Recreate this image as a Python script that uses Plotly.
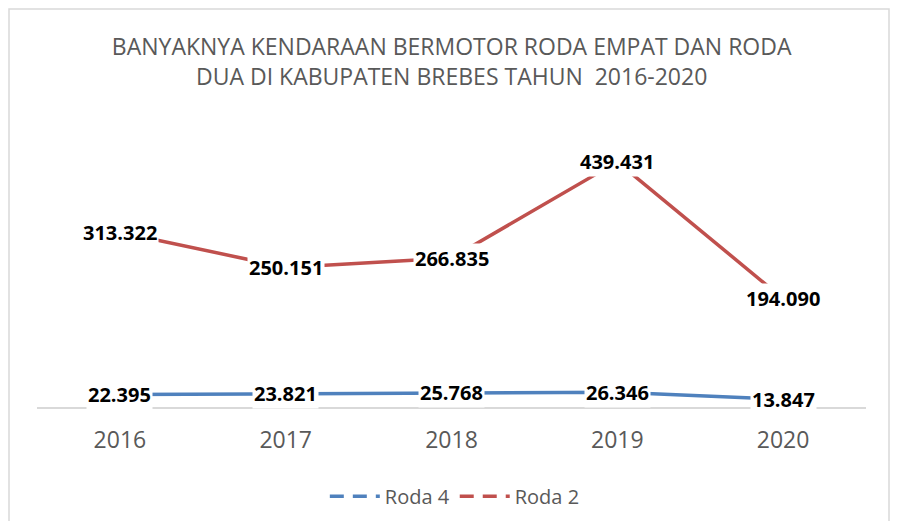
import plotly.graph_objects as go

tahun = ["2016", "2017", "2018", "2019", "2020"]
roda_4 = [22395, 23821, 25768, 26346, 13847]
roda_2 = [313322, 250151, 266835, 439431, 194090]
label_roda_4 = ["22.395", "23.821", "25.768", "26.346", "13.847"]
label_roda_2 = ["313.322", "250.151", "266.835", "439.431", "194.090"]

BLUE = "#4F81BD"
RED = "#C0504D"
GREY = "#595959"

fig = go.Figure()

# actual lines (legend drawn by dummy dashed traces below)
fig.add_trace(go.Scatter(x=tahun, y=roda_4, mode="lines", name="Roda 4",
                         line=dict(color=BLUE, width=3.5), showlegend=False))
fig.add_trace(go.Scatter(x=tahun, y=roda_2, mode="lines", name="Roda 2",
                         line=dict(color=RED, width=3.5), showlegend=False))
fig.add_trace(go.Scatter(x=[None], y=[None], mode="lines", name="Roda 4",
                         line=dict(color=BLUE, width=3.5, dash="14px,9px")))
fig.add_trace(go.Scatter(x=[None], y=[None], mode="lines", name="Roda 2",
                         line=dict(color=RED, width=3.5, dash="14px,9px")))

# data labels with white box, centred on the points
# (category index as x, "2016" would be read as a number by annotations)
for ys, labels in [(roda_4, label_roda_4), (roda_2, label_roda_2)]:
    for i, (y, t) in enumerate(zip(ys, labels)):
        fig.add_annotation(x=i, y=y, xref="x", yref="y", text="<b>" + t + "</b>",
                           showarrow=False, bgcolor="white", borderpad=1,
                           font=dict(family="Open Sans", size=20, color="black"))

# page body has an 8px margin, so the figure is a bit smaller than the window
W, H = 882, 513
ml, mr, mt, mb = 29, 24, 120, 114
pw, ph = W - ml - mr, H - mt - mb

# light outer border of the chart area
fig.add_shape(type="rect", xref="paper", yref="paper",
              x0=(1 - ml) / pw, x1=(W - 1 - ml) / pw,
              y0=(H - mb - H - 20) / ph, y1=(H - mb - 1) / ph,
              line=dict(color="#D9D9D9", width=1.5), fillcolor="rgba(0,0,0,0)",
              layer="below")

fig.update_layout(
    width=W, height=H,
    margin=dict(l=ml, r=mr, t=mt, b=mb, autoexpand=False),
    paper_bgcolor="white", plot_bgcolor="white",
    title=dict(text="BANYAKNYA KENDARAAN BERMOTOR RODA EMPAT DAN RODA<br>DUA DI KABUPATEN BREBES TAHUN  2016-2020",
               x=0.503, xanchor="center", y=0.908, yanchor="middle",
               font=dict(family="Open Sans", size=23, color=GREY)),
    xaxis=dict(type="category", range=[-0.5, 4.5], showline=True, linecolor="#D9D9D9",
               linewidth=1.5, showgrid=False, ticks="", ticklabelstandoff=12,
               tickfont=dict(family="Open Sans", size=23, color=GREY)),
    yaxis=dict(range=[0, 500000], visible=False, showgrid=False, zeroline=False),
    legend=dict(orientation="h", x=0.504, xanchor="center", y=-0.32, yanchor="middle",
                font=dict(family="Open Sans", size=20, color=GREY), itemwidth=50),
    showlegend=True,
)

fig.write_html("out.html")
